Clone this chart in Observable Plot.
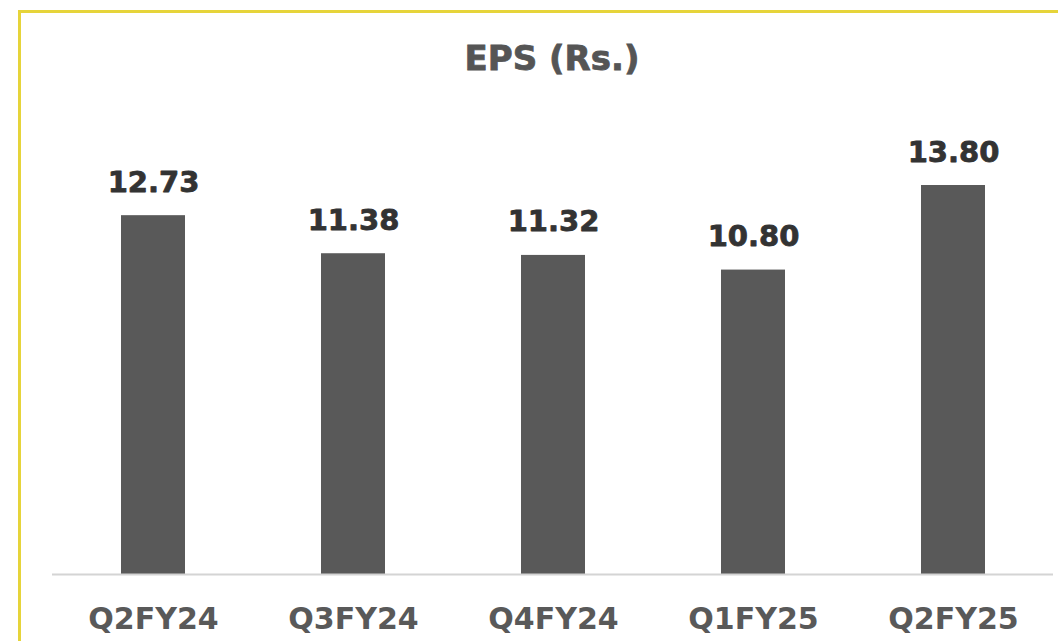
<!DOCTYPE html>
<html>
<head>
<meta charset="utf-8">
<script src="https://cdn.jsdelivr.net/npm/d3@7"></script>
<script src="https://cdn.jsdelivr.net/npm/@observablehq/plot@0.6"></script>
<style>
  html, body { margin: 0; padding: 0; background: #fff; }
  body { width: 1058px; height: 641px; position: relative; overflow: hidden; font-family: "DejaVu Sans", sans-serif; }
  #frame { position: absolute; left: 18px; top: 10px; width: 1100px; height: 700px; border-top: 3px solid #e6d43a; border-left: 3px solid #e6d43a; box-sizing: border-box; }
  #title { position: absolute; left: 0; width: 1104px; top: 41px; text-align: center; font-weight: bold; font-size: 34px; color: #555; line-height: 1; -webkit-text-stroke: 0.8px #555; }
  #chart { position: absolute; left: 0; top: 90px; }
</style>
</head>
<body>
<div id="frame"></div>
<div id="title">EPS (Rs.)</div>
<div id="chart"></div>
<script>
const quarters = ["Q2FY24", "Q3FY24", "Q4FY24", "Q1FY25", "Q2FY25"];
const eps = [12.73, 11.38, 11.32, 10.80, 13.80];

const data = quarters.map((q, i) => ({ quarter: q, eps: eps[i] }));

const chart = Plot.plot({
  width: 1058,
  height: 551,
  marginLeft: 52,
  marginRight: 5,
  marginTop: 33,
  marginBottom: 67,
  style: { background: "transparent", fontFamily: "DejaVu Sans, sans-serif" },
  x: { domain: quarters, paddingInner: 0.68, paddingOuter: 0.34, label: null },
  y: { domain: [0, 16], axis: null },
  marks: [
    Plot.barY(data, { x: "quarter", y: "eps", fill: "#595959" }),
    Plot.ruleY([0], { stroke: "#d4d4d4", strokeWidth: 2 }),
    Plot.text(data, {
      x: "quarter", y: "eps", text: d => d.eps.toFixed(2),
      lineAnchor: "bottom", dy: -24, fontSize: 29, fontWeight: "bold", fill: "#333", stroke: "#333", strokeWidth: 0.8
    }),
    Plot.axisX({ tickSize: 0, tickPadding: 33, fontSize: 30, fontWeight: "bold", fill: "#595959", stroke: "#595959", strokeWidth: 0.8, label: null })
  ]
});
document.getElementById("chart").appendChild(chart);
</script>
</body>
</html>
